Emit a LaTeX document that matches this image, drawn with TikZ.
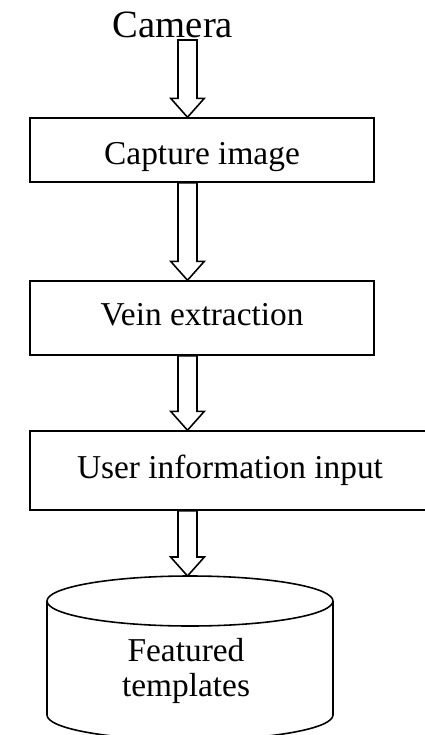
\documentclass[tikz,border=0pt]{standalone}
\usepackage{fontspec}
\setmainfont{Liberation Serif}
\usetikzlibrary{calc}
\tikzset{
    box/.style = {draw, line width = 0.85pt, rectangle, inner sep = 0pt,
                  font = \fontsize{19}{21}\selectfont,
                  text height = 13pt, text depth = 4pt},
    blockarrow/.style = {draw, line width = 0.9pt, fill = white, line join = miter}
}
\newcommand{\blockarrow}[2]{%
    \path[blockarrow] let \p1 = (#1), \p2 = (#2) in
        (\x1-5.4pt, \y1) -- (\x1-5.4pt, \y2+10.8pt) -- (\x1-9.6pt, \y2+10.8pt)
        -- (\x2, \y2) -- (\x1+9.6pt, \y2+10.8pt) -- (\x1+5.4pt, \y2+10.8pt)
        -- (\x1+5.4pt, \y1) -- cycle;}
\begin{document}
\begin{tikzpicture}[x = 0.02cm, y = -0.02cm]
                \useasboundingbox (0, 0) rectangle (425, 735);
                \clip (0, 0) rectangle (425, 735);
                \draw
                    node (C) [anchor = base, font = \fontsize{22}{24}\selectfont] at (173, 37) {Camera}
                    node (K) [box, minimum width = 6.88cm, minimum height = 1.28cm,
                              text height = 17pt, text depth = 0pt] at (202, 150) {Capture image}
                    node (V) [box, minimum width = 6.88cm, minimum height = 1.48cm] at (202, 318) {Vein extraction}
                    node (U) [box, minimum width = 8cm, minimum height = 1.58cm] at (230, 470.5) {User information input}
                    node (T) [align = center, font = \fontsize{19}{19.8}\selectfont] at (186, 671) {Featured\\templates};
                \coordinate (S) at (187.5, 40);
                \coordinate (D) at (187.5, 576);
                \draw [line width = 0.9pt]
                    (190, 601) ellipse [x radius = 143, y radius = 25]
                    (47, 601) -- (47, 715) arc [start angle = 180, end angle = 0, x radius = 143, y radius = 25] -- (333, 601);
                \blockarrow{S}{K.north -| S}
                \blockarrow{K.south -| S}{V.north -| S}
                \blockarrow{V.south -| S}{U.north -| S}
                \blockarrow{U.south -| S}{D}
            \end{tikzpicture}
\end{document}
